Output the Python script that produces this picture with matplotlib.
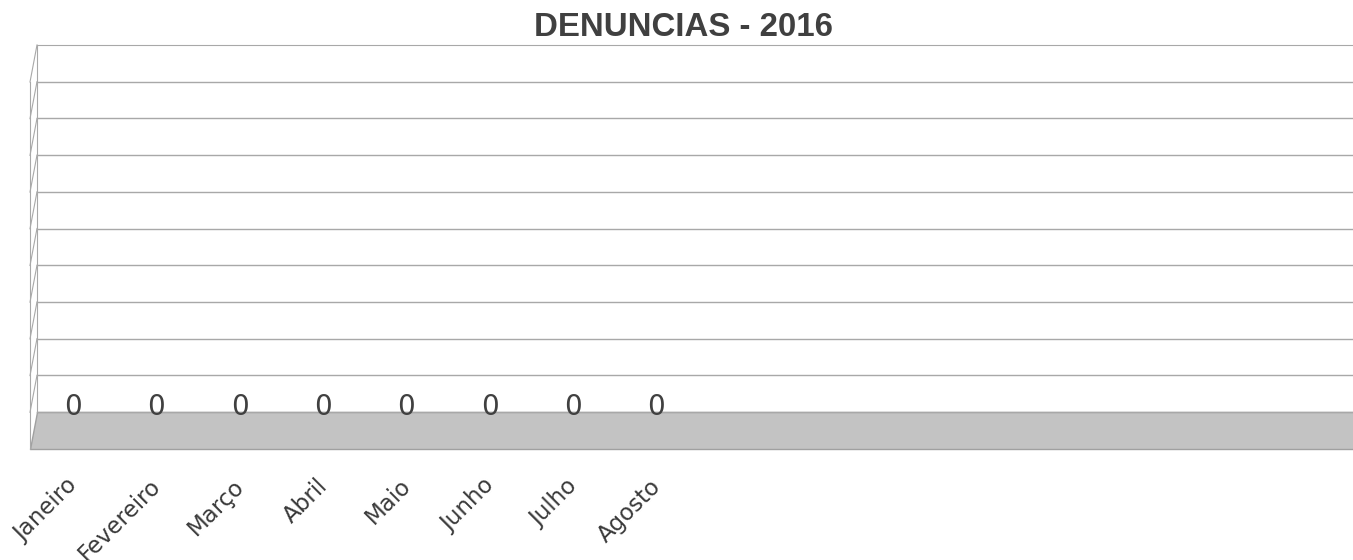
import numpy as np
import matplotlib
matplotlib.use('Agg')
from matplotlib import pyplot as plt
from matplotlib.patches import Polygon
import matplotlib.transforms as mtransforms

# data
meses = ['Janeiro', 'Fevereiro', 'Março', 'Abril', 'Maio', 'Junho', 'Julho', 'Agosto']
denuncias = [0, 0, 0, 0, 0, 0, 0, 0]
titulo = 'DENUNCIAS - 2016'

W, H = 1353, 560
fig = plt.figure(figsize=(W / 100, H / 100), dpi=100)

# axes = back wall of the 3D excel chart
left_px, right_px, top_px, back_px = 37, 1353, 45, 412
ax = fig.add_axes([left_px / W, 1 - back_px / H, (right_px - left_px) / W, (back_px - top_px) / H])

cat_w = 83.33   # pixels per category
xl = -(71 - left_px) / cat_w
xr = xl + (right_px - left_px) / cat_w
ymax = 10
ax.set_xlim(xl, xr)
ax.set_ylim(0, ymax)

# depth offset of the floor (front is 7px left, 37px lower)
dx = -7 / cat_w
dy = -37 * ymax / (back_px - top_px)

grid_c = '#a8a8a8'
x = np.arange(len(meses))

# floor
ax.add_patch(Polygon([(xl, 0), (xr + 1, 0), (xr + 1, dy), (xl + dx, dy)], closed=True,
                     facecolor='#c3c3c3', edgecolor='#a0a0a0', lw=1.0, clip_on=False, zorder=1))

# gridlines on back wall + side wall
for k in range(ymax + 1):
    ax.plot([xl, xr + 1], [k, k], color=grid_c, lw=1.0 if k < ymax else 0.8, clip_on=False, zorder=2)
    if k > 0:
        ax.plot([xl, xl + dx], [k, k + dy], color=grid_c, lw=0.8, clip_on=False, zorder=2)
ax.plot([xl, xl], [0, ymax], color=grid_c, lw=0.8, clip_on=False, zorder=2)
ax.plot([xl + dx, xl + dx], [dy, ymax + dy], color=grid_c, lw=0.8, clip_on=False, zorder=2)

# bars are zero height -> only the value labels are visible
ax.bar(x, denuncias, width=0.6, color='#4f81bd', zorder=3)
for xi, v in zip(x, denuncias):
    ax.annotate(str(v), (xi, v), xytext=(2, 5), textcoords='offset pixels',
                ha='center', va='center', fontsize=20, color='#404040',
                family='DejaVu Sans', zorder=4, annotation_clip=False)

ax.set_xticks(x)
ax.set_xticklabels(meses, rotation=45, ha='right', rotation_mode='anchor',
                   fontsize=16.5, color='#3a3a3a', family='DejaVu Sans')
ax.tick_params(axis='x', length=0, pad=45)
shift = mtransforms.ScaledTranslation(-5 / 100, 0, fig.dpi_scale_trans)
for lab in ax.get_xticklabels():
    lab.set_transform(lab.get_transform() + shift)
ax.set_yticks([])
for s in ax.spines.values():
    s.set_visible(False)
ax.patch.set_visible(False)

fig.text(683 / W, 1 - 27 / H, titulo, ha='center', va='center', fontsize=23.8,
         fontweight='bold', color='#404040', family='Liberation Sans')

fig.savefig('out.png', dpi=100)
